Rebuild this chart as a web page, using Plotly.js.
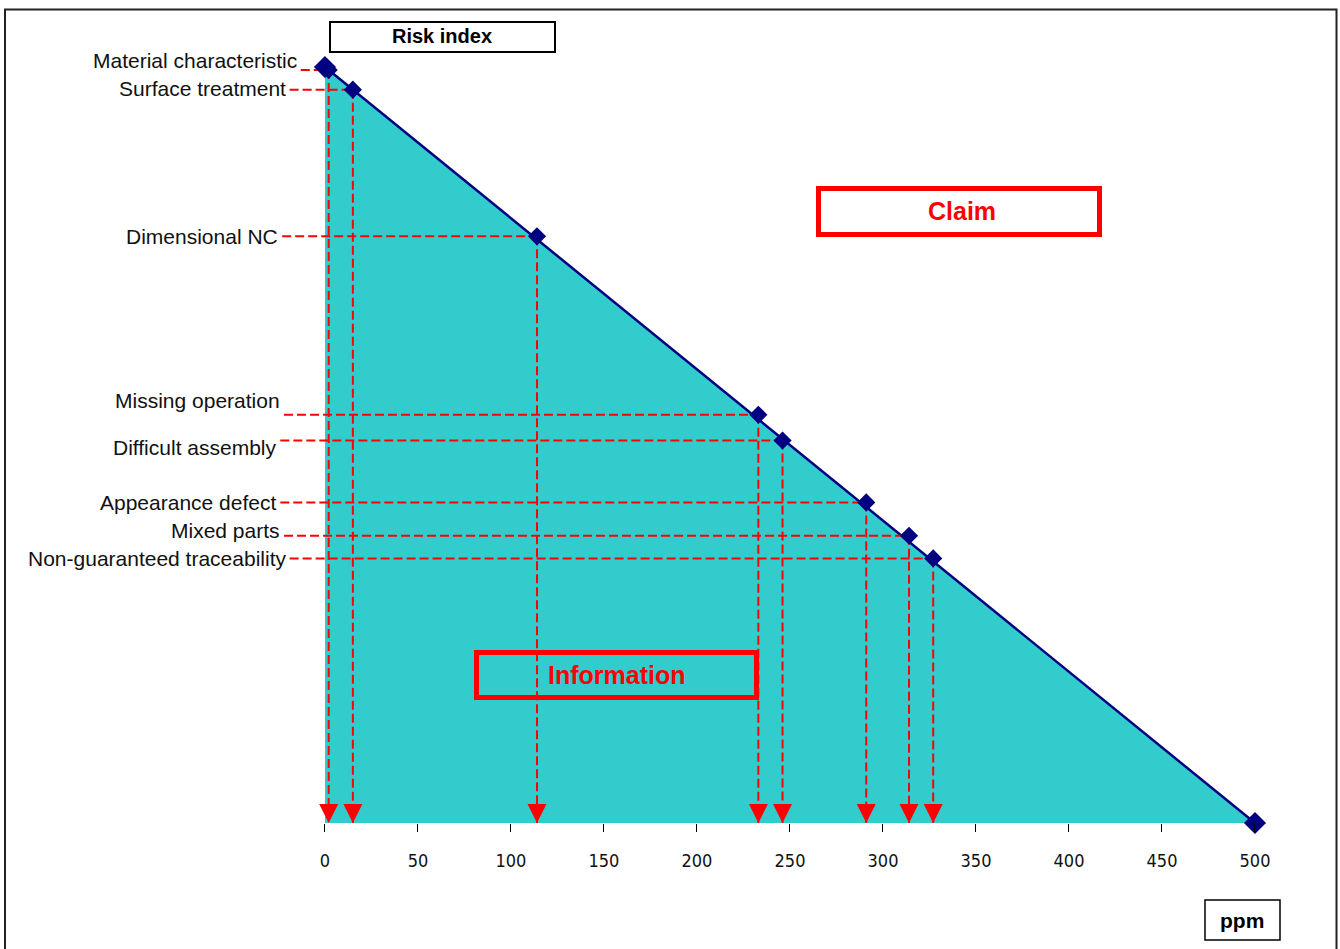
<!DOCTYPE html>
<html>
<head>
<meta charset="utf-8">
<script src="https://cdn.plot.ly/plotly-3.0.1.min.js"></script>
<style>
  html, body { margin: 0; padding: 0; background: #ffffff; }
  #chart { width: 1340px; height: 949px; }
</style>
</head>
<body>
<div id="chart"></div>
<script>
// ---- data ----
const defects = [
  "Material characteristic",
  "Surface treatment",
  "Dimensional NC",
  "Missing operation",
  "Difficult assembly",
  "Appearance defect",
  "Mixed parts",
  "Non-guaranteed traceability"
];
const defectPpm  = [2, 15, 114, 233, 246, 291, 314, 327];
const defectRisk = [498, 485, 388, 270, 253, 212, 190, 175];
const rampPpm  = [0, 500];
const rampRisk = [500, 0];
const xTickVals = [0, 50, 100, 150, 200, 250, 300, 350, 400, 450, 500];
const xTickText = ["0", "50", "100", "150", "200", "250", "300", "350", "400", "450", "500"];

// ---- layout helpers (positions / styles, not data) ----
const labelStart = [-13, -19, -23, -22, -24, -24, -22, -19];  // where the dashed leader starts (ppm units)
const labelYShift = [10, 1, 0, 14, -7, 0, 5, 0];             // px nudges of the label text
const W = 1340, H = 949;
const px = v => v / W;
const py = v => 1 - v / H;

// dashed leader lines
const dashX = [], dashY = [];
for (let i = 0; i < defects.length; i++) {
  dashX.push(labelStart[i], defectPpm[i], null);
  dashY.push(defectRisk[i], defectRisk[i], null);
  dashX.push(defectPpm[i], defectPpm[i], null);
  dashY.push(defectRisk[i], 0, null);
}

const traces = [
  { // filled ramp
    x: rampPpm, y: rampRisk, type: "scatter", mode: "lines",
    fill: "tozeroy", fillcolor: "#33CCCC",
    line: { color: "#000080", width: 2.5 },
    hoverinfo: "skip", showlegend: false
  },
  { // red dashed leaders
    x: dashX, y: dashY, type: "scatter", mode: "lines",
    line: { color: "#FF0000", width: 2, dash: "9px,4px" },
    connectgaps: false, hoverinfo: "skip", showlegend: false
  },
  { // red arrows on the ppm axis
    x: defectPpm, y: defectPpm.map(() => 0), type: "scatter", mode: "markers",
    marker: { symbol: "arrow-down", size: 19, color: "#FF0000", line: { width: 0 } },
    hoverinfo: "skip", showlegend: false
  },
  { // ramp end markers
    x: rampPpm, y: rampRisk, type: "scatter", mode: "markers",
    marker: { symbol: "diamond", size: 17, color: "#000080", line: { width: 0 } },
    hoverinfo: "skip", showlegend: false
  },
  { // defect markers
    x: defectPpm, y: defectRisk, type: "scatter", mode: "markers",
    marker: { symbol: "diamond", size: 14, color: "#000080", line: { width: 0 } },
    text: defects, hoverinfo: "text", showlegend: false
  }
];

const annotations = defects.map((d, i) => ({
  x: labelStart[i], y: defectRisk[i], xref: "x", yref: "y",
  text: d, showarrow: false, xanchor: "right", yanchor: "middle",
  xshift: -2, yshift: labelYShift[i],
  font: { family: "Liberation Sans, Arial, sans-serif", size: 21, color: "#111111" }
}));

annotations.push(
  { x: px(442), y: py(36), xref: "paper", yref: "paper", text: "<b>Risk index</b>", showarrow: false,
    xanchor: "center", yanchor: "middle",
    font: { family: "Liberation Sans, Arial, sans-serif", size: 20, color: "#000000" } },
  { x: px(962), y: py(211), xref: "paper", yref: "paper", text: "<b>Claim</b>", showarrow: false,
    xanchor: "center", yanchor: "middle",
    font: { family: "Liberation Sans, Arial, sans-serif", size: 25, color: "#FF0000" } },
  { x: px(617), y: py(675), xref: "paper", yref: "paper", text: "<b>Information</b>", showarrow: false,
    xanchor: "center", yanchor: "middle",
    font: { family: "Liberation Sans, Arial, sans-serif", size: 25, color: "#FF0000" } },
  { x: px(1242), y: py(920), xref: "paper", yref: "paper", text: "<b>ppm</b>", showarrow: false,
    xanchor: "center", yanchor: "middle",
    font: { family: "Liberation Sans, Arial, sans-serif", size: 21, color: "#000000" } }
);

const shapes = [
  { type: "rect", xref: "paper", yref: "paper", x0: px(5), x1: px(1336.5), y0: -0.02, y1: py(9.5),
    line: { color: "#222222", width: 2 }, fillcolor: "rgba(0,0,0,0)" },
  { type: "rect", xref: "paper", yref: "paper", x0: px(330), x1: px(555), y0: py(52), y1: py(22),
    line: { color: "#000000", width: 2 }, fillcolor: "#ffffff", layer: "below" },
  { type: "rect", xref: "paper", yref: "paper", x0: px(818.5), x1: px(1099.5), y0: py(234.5), y1: py(188.5),
    line: { color: "#FF0000", width: 5 }, fillcolor: "#ffffff", layer: "below" },
  { type: "rect", xref: "paper", yref: "paper", x0: px(476.5), x1: px(756.5), y0: py(697.5), y1: py(652.5),
    line: { color: "#FF0000", width: 5 }, fillcolor: "rgba(0,0,0,0)" },
  { type: "rect", xref: "paper", yref: "paper", x0: px(1205), x1: px(1280), y0: py(940), y1: py(900),
    line: { color: "#000000", width: 1.5 }, fillcolor: "#ffffff", layer: "below" }
];

const layout = {
  width: W, height: H,
  margin: { l: 0, r: 0, t: 0, b: 0, pad: 0 },
  paper_bgcolor: "#ffffff", plot_bgcolor: "rgba(0,0,0,0)",
  showlegend: false,
  xaxis: {
    range: [-174.7, 545.7], fixedrange: true,
    tickmode: "array", tickvals: xTickVals, ticktext: xTickText,
    ticks: "outside", ticklen: 8, tickwidth: 1, tickcolor: "#000000",
    showgrid: false, zeroline: false, showline: false,
    anchor: "free", position: 126 / 949,
    ticklabelstandoff: 13,
    tickfont: { family: "Liberation Sans Narrow, DejaVu Sans Condensed, Arial Narrow, sans-serif", size: 18, color: "#111111" }
  },
  yaxis: {
    range: [-83.3, 544.3], visible: false, fixedrange: true,
    showgrid: false, zeroline: false
  },
  annotations: annotations,
  shapes: shapes
};

Plotly.newPlot("chart", traces, layout, { staticPlot: true, displayModeBar: false });
</script>
</body>
</html>
